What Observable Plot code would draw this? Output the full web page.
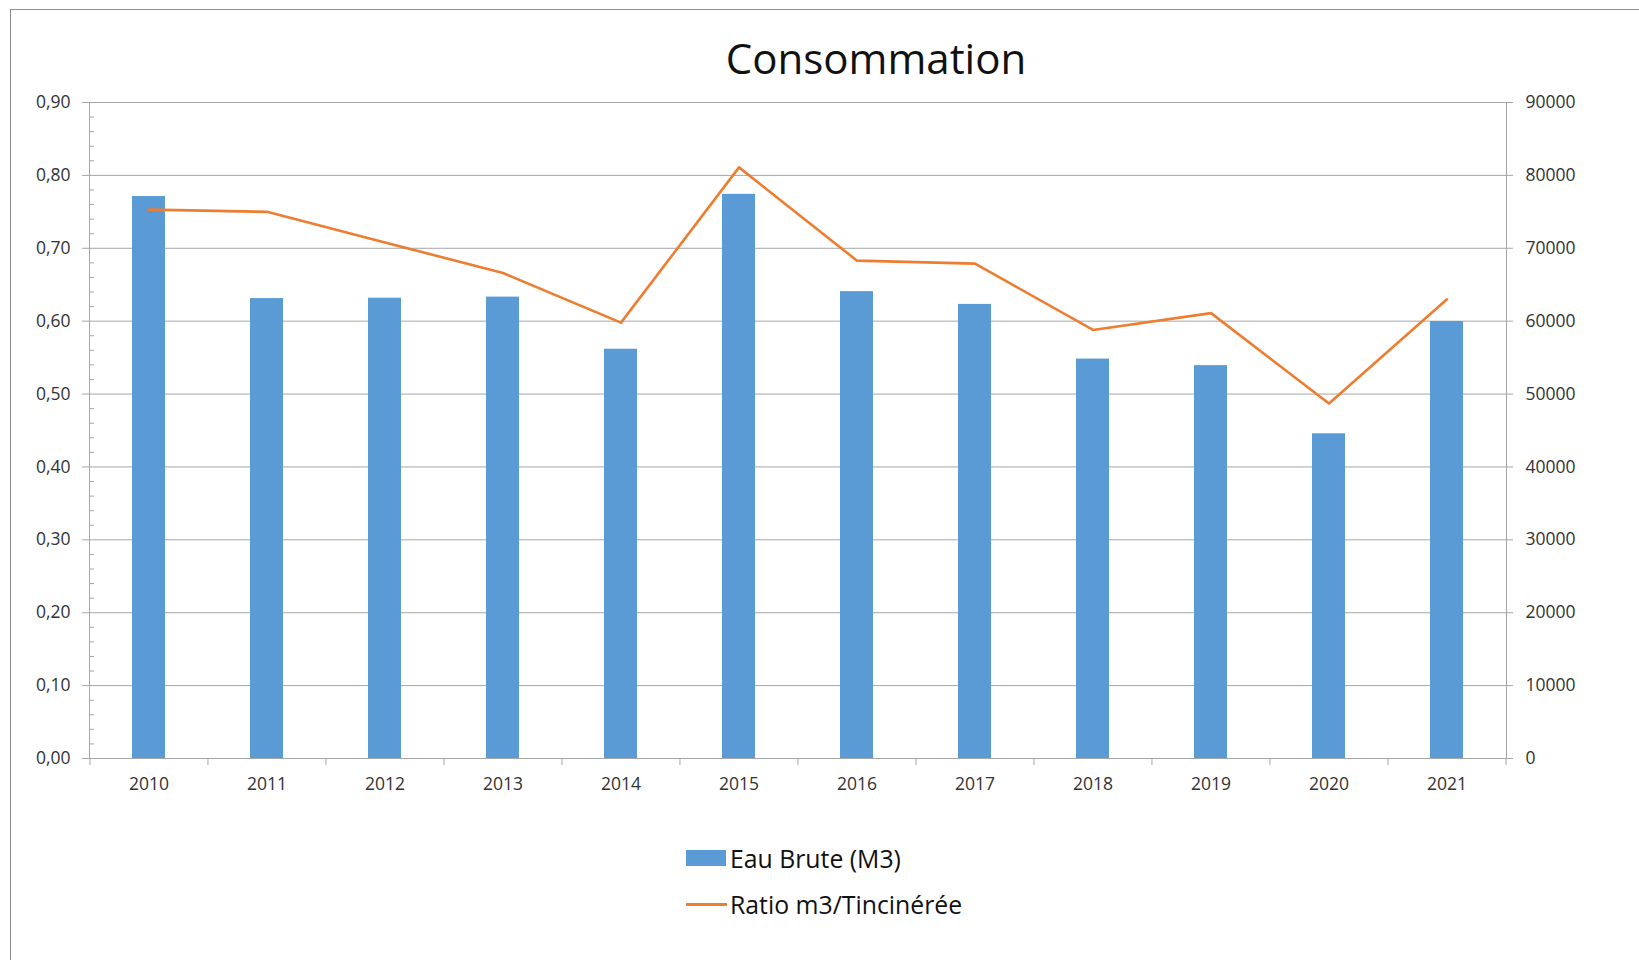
<!DOCTYPE html>
<html>
<head>
<meta charset="utf-8">
<script src="https://cdn.jsdelivr.net/npm/d3@7"></script>
<script src="https://cdn.jsdelivr.net/npm/@observablehq/plot@0.6"></script>
<style>
  html, body { margin: 0; padding: 0; background: #fff; width: 1639px; height: 960px; overflow: hidden; }
  body { position: relative; font-family: "Open Sans", sans-serif; color: #222; }
  #frame { position: absolute; left: 10px; top: 9px; width: 1720px; height: 1000px; border: 1px solid #8c8c8c; box-sizing: border-box; }
  #chart { position: absolute; left: 0; top: 0; }
  #title { position: absolute; left: 876px; top: 37px; transform: translateX(-50%); font-size: 42px; line-height: 1; white-space: nowrap; color: #111; }
  .leg { position: absolute; left: 686px; display: flex; align-items: center; font-size: 24.8px; white-space: nowrap; color: #111; }
  .sw-bar { width: 40px; height: 16px; background: #5B9BD5; margin-right: 4px; }
  .sw-line { width: 41px; height: 3px; background: #ED7D31; margin-right: 3px; }
</style>
</head>
<body>
<div id="frame"></div>
<div id="chart"></div>
<div id="title">Consommation</div>
<div class="leg" style="top:841px"><div class="sw-bar"></div><span>Eau Brute (M3)</span></div>
<div class="leg" style="top:887px"><div class="sw-line"></div><span>Ratio m3/Tincinérée</span></div>
<script>
const years = ["2010","2011","2012","2013","2014","2015","2016","2017","2018","2019","2020","2021"];
const eauBrute = [77100, 63100, 63150, 63300, 56150, 77400, 64050, 62300, 54800, 53900, 44550, 59950];
const ratio = [0.753, 0.750, 0.708, 0.666, 0.598, 0.811, 0.683, 0.679, 0.588, 0.611, 0.487, 0.630];
const leftTicks = [0, 0.1, 0.2, 0.3, 0.4, 0.5, 0.6, 0.7, 0.8, 0.9];
const leftTickLabels = ["0,00","0,10","0,20","0,30","0,40","0,50","0,60","0,70","0,80","0,90"];
const rightTickLabels = ["0","10000","20000","30000","40000","50000","60000","70000","80000","90000"];
const rightMax = 90000, leftMax = 0.9;

const data = years.map((y, i) => ({year: y, eau: eauBrute[i], ratio: ratio[i]}));
const minorTicks = d3.range(0, 46).map(i => i * 0.02).filter(v => Math.abs(v * 10 - Math.round(v * 10)) > 1e-6);

const W = 1639, H = 800, ML = 89, MR = 133, MT = 102, MB = 42;
const step = (W - ML - MR) / years.length;
const grey = "#a6a6a6";

const chart = Plot.plot({
  width: W, height: H,
  marginLeft: ML, marginRight: MR, marginTop: MT, marginBottom: MB,
  style: {fontFamily: "'Open Sans', sans-serif", fontSize: "17.5px", color: "#333", background: "transparent"},
  x: {type: "band", domain: years, paddingInner: 0.72, paddingOuter: 0.36, axis: null},
  y: {domain: [0, leftMax], axis: null},
  marks: [
    Plot.gridY(leftTicks, {stroke: grey, strokeOpacity: 1}),
    Plot.barY(data, {x: "year", y: d => d.eau / rightMax * leftMax, fill: "#5B9BD5"}),
    Plot.frame({stroke: grey}),
    Plot.line(data, {x: "year", y: "ratio", stroke: "#ED7D31", strokeWidth: 2.6}),
    Plot.axisY({anchor: "left", ticks: leftTicks, tickSize: 7, tickPadding: 12, stroke: grey,
      tickFormat: d => leftTickLabels[leftTicks.findIndex(t => Math.abs(t - d) < 1e-9)], label: null, fill: "#333"}),
    Plot.axisY({anchor: "left", ticks: minorTicks, tickSize: -5, stroke: grey, tickFormat: () => "", label: null}),
    Plot.axisY({anchor: "right", ticks: leftTicks, tickSize: 6, tickPadding: 13, stroke: grey,
      tickFormat: d => rightTickLabels[leftTicks.findIndex(t => Math.abs(t - d) < 1e-9)], label: null, fill: "#333"}),
    Plot.axisX({anchor: "bottom", tickSize: 0, tickPadding: 19, label: null, fill: "#333"}),
    Plot.ruleX(years, {x: d => d, dx: -step / 2, y1: 0, insetBottom: -7, stroke: grey}),
    Plot.ruleX([years[years.length - 1]], {x: d => d, dx: step / 2, y1: 0, insetBottom: -7, stroke: grey})
  ]
});
document.getElementById("chart").appendChild(chart);
</script>
</body>
</html>
